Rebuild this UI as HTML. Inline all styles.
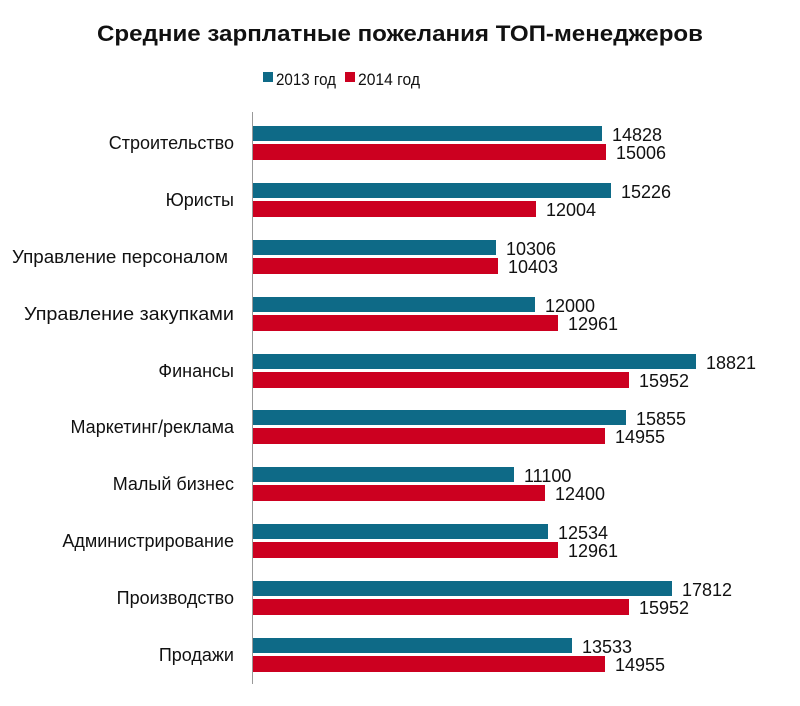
<!DOCTYPE html>
<html><head><meta charset="utf-8"><style>html,body{margin:0;padding:0;background:#fff}</style></head>
<body>
<svg width="800" height="701" xmlns="http://www.w3.org/2000/svg" font-family="Liberation Sans, DejaVu Sans, sans-serif">
<rect width="800" height="701" fill="#fff"/>
<text x="400" y="41" text-anchor="middle" font-size="22" font-weight="bold" textLength="606" lengthAdjust="spacingAndGlyphs" fill="#111">Средние зарплатные пожелания ТОП-менеджеров</text>
<rect x="263" y="72" width="10" height="10" fill="#0e6a87"/>
<text x="276" y="85" font-size="17" textLength="60" lengthAdjust="spacingAndGlyphs" fill="#111">2013 год</text>
<rect x="345" y="72" width="10" height="10" fill="#cc0020"/>
<text x="358" y="85" font-size="17" textLength="62" lengthAdjust="spacingAndGlyphs" fill="#111">2014 год</text>
<line x1="252.5" y1="112" x2="252.5" y2="684" stroke="#999" stroke-width="1"/>
<g font-size="18" fill="#111" text-anchor="end">
<text x="234" y="149">Строительство</text>
<text x="234" y="206">Юристы</text>
<text x="228" y="263" textLength="216" lengthAdjust="spacingAndGlyphs">Управление персоналом</text>
<text x="234" y="320" textLength="210" lengthAdjust="spacingAndGlyphs">Управление  закупками</text>
<text x="234" y="377">Финансы</text>
<text x="234" y="433">Маркетинг/реклама</text>
<text x="234" y="490">Малый бизнес</text>
<text x="234" y="547">Администрирование</text>
<text x="234" y="604">Производство</text>
<text x="234" y="661">Продажи</text>
</g>
<g fill="#0e6a87">
<rect x="253" y="126" width="349" height="15"/>
<rect x="253" y="183" width="358" height="15"/>
<rect x="253" y="240" width="243" height="15"/>
<rect x="253" y="297" width="282" height="15"/>
<rect x="253" y="354" width="443" height="15"/>
<rect x="253" y="410" width="373" height="15"/>
<rect x="253" y="467" width="261" height="15"/>
<rect x="253" y="524" width="295" height="15"/>
<rect x="253" y="581" width="419" height="15"/>
<rect x="253" y="638" width="319" height="15"/>
</g>
<g fill="#cc0020">
<rect x="253" y="144" width="353" height="16"/>
<rect x="253" y="201" width="283" height="16"/>
<rect x="253" y="258" width="245" height="16"/>
<rect x="253" y="315" width="305" height="16"/>
<rect x="253" y="372" width="376" height="16"/>
<rect x="253" y="428" width="352" height="16"/>
<rect x="253" y="485" width="292" height="16"/>
<rect x="253" y="542" width="305" height="16"/>
<rect x="253" y="599" width="376" height="16"/>
<rect x="253" y="656" width="352" height="16"/>
</g>
<g font-size="18" fill="#111">
<text x="612" y="141">14828</text><text x="616" y="159">15006</text>
<text x="621" y="198">15226</text><text x="546" y="216">12004</text>
<text x="506" y="255">10306</text><text x="508" y="273">10403</text>
<text x="545" y="312">12000</text><text x="568" y="330">12961</text>
<text x="706" y="369">18821</text><text x="639" y="387">15952</text>
<text x="636" y="425">15855</text><text x="615" y="443">14955</text>
<text x="524" y="482">11100</text><text x="555" y="500">12400</text>
<text x="558" y="539">12534</text><text x="568" y="557">12961</text>
<text x="682" y="596">17812</text><text x="639" y="614">15952</text>
<text x="582" y="653">13533</text><text x="615" y="671">14955</text>
</g>
</svg>
</body></html>
